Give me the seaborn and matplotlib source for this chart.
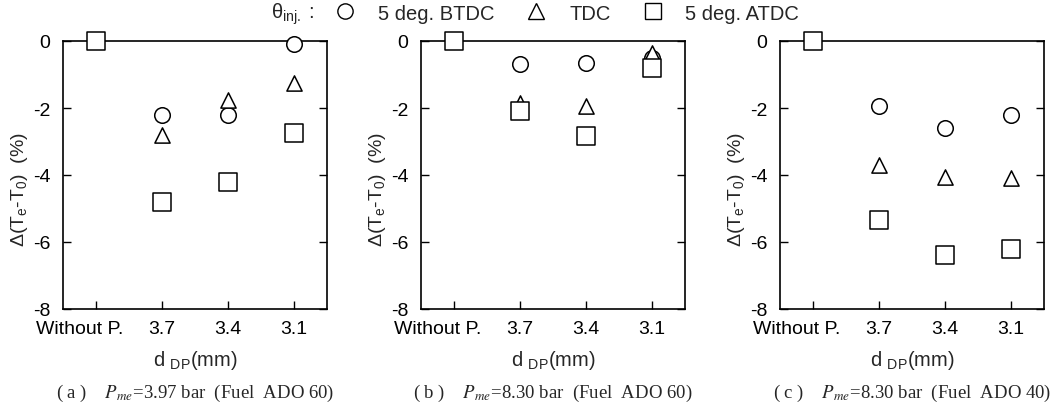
import matplotlib
matplotlib.use("Agg")
import matplotlib.pyplot as plt
from matplotlib.lines import Line2D
from matplotlib.transforms import ScaledTranslation
import seaborn as sns

sns.set_style("ticks")
plt.rcParams["font.family"] = ["Liberation Sans", "DejaVu Sans"]
plt.rcParams["mathtext.fontset"] = "custom"
plt.rcParams["mathtext.rm"] = "Liberation Sans"
plt.rcParams["mathtext.it"] = "Liberation Sans:italic"

# Nozzle configurations along the x axis
categories = ["Without P.", "3.7", "3.4", "3.1"]

# Relative exhaust temperature change (%) per injection timing
btdc_a = [0.0, -2.2, -2.2, -0.1]
tdc_a = [0.0, -2.8, -1.75, -1.25]
atdc_a = [0.0, -4.8, -4.2, -2.75]

btdc_b = [0.0, -0.7, -0.65, -0.5]
tdc_b = [0.0, -1.85, -1.95, -0.35]
atdc_b = [0.0, -2.1, -2.85, -0.8]

btdc_c = [0.0, -1.95, -2.6, -2.2]
tdc_c = [0.0, -3.7, -4.05, -4.1]
atdc_c = [0.0, -5.35, -6.4, -6.2]

series_labels = ["5 deg. BTDC", "TDC", "5 deg. ATDC"]
captions = [
    "( a )    $P_{me}$=3.97 bar  (Fuel  ADO 60)",
    "( b )    $P_{me}$=8.30 bar  (Fuel  ADO 60)",
    "( c )    $P_{me}$=8.30 bar  (Fuel  ADO 40)",
]
panels = [
    (btdc_a, tdc_a, atdc_a),
    (btdc_b, tdc_b, atdc_b),
    (btdc_c, tdc_c, atdc_c),
]

markers = ["o", "^", "s"]
sizes = [125, 120, 150]
FS = 14

W, H = 1059, 414
fig = plt.figure(figsize=(W / 100, H / 100), dpi=100)

lefts = [63, 421, 780]
ax_w, ax_top, ax_bot = 264, 42, 310

for i, (data, caption) in enumerate(zip(panels, captions)):
    ax = fig.add_axes([lefts[i] / W, 1 - ax_bot / H, ax_w / W, (ax_bot - ax_top) / H])
    for vals, mk, sz in zip(data, markers, sizes):
        sns.scatterplot(x=categories, y=vals, marker=mk, s=sz, color="white",
                        edgecolor="black", linewidth=1.1, ax=ax, zorder=3,
                        clip_on=False, legend=False)
    ax.set_xlim(-0.5, 3.5)
    ax.set_ylim(-8, 0)
    ax.set_yticks([0, -2, -4, -6, -8])
    ax.set_yticklabels(["0", "-2", "-4", "-6", "-8"])
    ax.tick_params(axis="both", direction="in", length=6, width=1.0,
                   labelsize=FS, colors="black")
    ax.tick_params(axis="y", right=True, pad=9)
    ax.tick_params(axis="x", pad=8)
    for sp in ax.spines.values():
        sp.set_linewidth(1.2)
        sp.set_color("black")
        sp.set_zorder(2)
    # the wide first category label sits a little left of its tick
    first = ax.get_xticklabels()[0]
    first.set_transform(first.get_transform()
                        + ScaledTranslation(-16 / 100, 0, fig.dpi_scale_trans))
    ax.set_xlabel("d $_{\\mathrm{DP}}$(mm)", fontsize=14.5, labelpad=8)
    ax.set_ylabel("$\\Delta$(T$_{\\mathrm{e}}$-T$_{\\mathrm{0}}$)  (%)",
                  fontsize=14)
    ax.yaxis.set_label_coords(-0.124, 0.45)
    ax.text(0.5, -0.31, caption, transform=ax.transAxes, ha="center", va="center",
            fontsize=13.5, family=["Liberation Serif", "DejaVu Serif"],
            math_fontfamily="stix")

# Shared legend along the top
handles = [Line2D([], [], linestyle="none", marker=m, markersize=11,
                  markerfacecolor="white", markeredgecolor="black",
                  markeredgewidth=1.0) for m in markers]
fig.text(271 / W, 1 - 14 / H, "θ$_{\\mathrm{inj.}}$ :", fontsize=14.5,
         ha="left", va="center")
fig.legend(handles, series_labels, loc="center left", ncol=3,
           bbox_to_anchor=(335 / W, 1 - 14 / H), frameon=False, fontsize=14.5,
           handlelength=1.0, handletextpad=1.12, columnspacing=1.6,
           borderpad=0, borderaxespad=0)

fig.savefig("out.png", dpi=100)
